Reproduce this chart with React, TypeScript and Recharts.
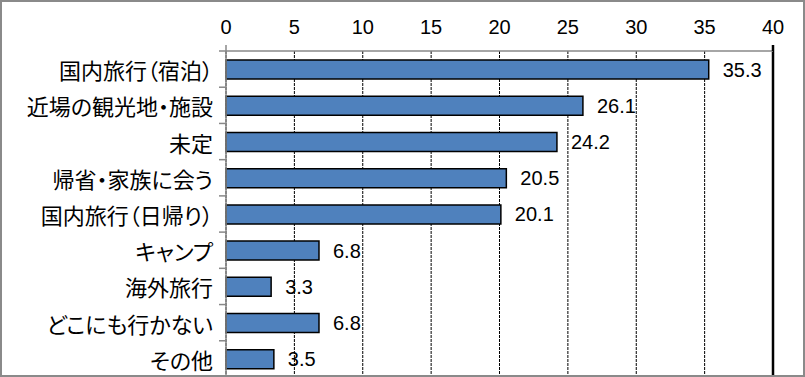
import React from 'react';
import { BarChart, Bar, XAxis, YAxis, CartesianGrid, ReferenceLine, LabelList } from 'recharts';

const categories = [
  '国内旅行（宿泊）',
  '近場の観光地・施設',
  '未定',
  '帰省・家族に会う',
  '国内旅行（日帰り）',
  'キャンプ',
  '海外旅行',
  'どこにも行かない',
  'その他',
];
const values = [35.3, 26.1, 24.2, 20.5, 20.1, 6.8, 3.3, 6.8, 3.5];
const xTicks = [0, 5, 10, 15, 20, 25, 30, 35, 40];

const data = categories.map((name, i) => ({ name, value: values[i] }));

const W = 805;
const H = 377;
const PLOT_LEFT = 226;
const PLOT_TOP = 51;
const BAND = (H - PLOT_TOP) / categories.length;

const jpFont = '"Noto Sans CJK JP", "Noto Sans", sans-serif';
const numFont = '"Liberation Sans", Arial, sans-serif';

// category label plus the little tick mark at the band boundary
const CategoryTick = (props: any) => {
  const { y, payload } = props;
  return (
    <g>
      <line x1={PLOT_LEFT - 7} x2={PLOT_LEFT} y1={y - BAND / 2} y2={y - BAND / 2} stroke="#888" strokeWidth={1.5} />
      <text
        x={PLOT_LEFT - 13}
        y={y}
        textAnchor="end"
        dominantBaseline="central"
        fill="#000"
        fontSize={22}
        fontFamily={jpFont}
        style={{ fontFeatureSettings: '"palt"' }}
      >
        {payload.value}
      </text>
    </g>
  );
};

// top value ticks; the outer ones get a short stub above the plot
const ValueTick = (props: any) => {
  const { x, payload } = props;
  const edge = payload.value === xTicks[0] || payload.value === xTicks[xTicks.length - 1];
  return (
    <g>
      {edge && (
        <line
          x1={x}
          x2={x}
          y1={PLOT_TOP - 6}
          y2={PLOT_TOP}
          stroke={payload.value === 0 ? '#888' : '#000'}
          strokeWidth={payload.value === 0 ? 1.5 : 2.5}
        />
      )}
      <text x={x} y={34} textAnchor="middle" fill="#000" fontSize={20} fontFamily={numFont}>
        {payload.value}
      </text>
    </g>
  );
};

export default function App() {
  return (
    <div style={{ position: 'absolute', left: 0, top: 0, width: W, height: H, background: '#fff' }}>
      <BarChart
        width={W}
        height={H}
        data={data}
        layout="vertical"
        margin={{ top: 0, right: 32, left: 0, bottom: 0 }}
        barSize={19}
      >
        <CartesianGrid horizontal={false} stroke="#000" strokeDasharray="3 1" strokeWidth={1} />
        <XAxis
          type="number"
          orientation="top"
          domain={[0, 40]}
          ticks={xTicks}
          interval={0}
          height={PLOT_TOP}
          tickLine={false}
          axisLine={{ stroke: '#888', strokeWidth: 1.5 }}
          tick={<ValueTick />}
        />
        <YAxis
          type="category"
          dataKey="name"
          width={PLOT_LEFT}
          tickLine={false}
          axisLine={{ stroke: '#888', strokeWidth: 1.5 }}
          tick={<CategoryTick />}
          interval={0}
        />
        <ReferenceLine x={40} stroke="#000" strokeWidth={2.5} />
        <Bar dataKey="value" fill="#4F81BD" stroke="#000" strokeWidth={1.5} isAnimationActive={false}>
          <LabelList
            dataKey="value"
            position="right"
            offset={14}
            formatter={(v: any) => Number(v).toFixed(1)}
            style={{ fill: '#000', fontSize: 20, fontFamily: numFont }}
          />
        </Bar>
      </BarChart>
      <div
        style={{
          position: 'absolute',
          left: 0,
          top: 0,
          width: W,
          height: H,
          boxSizing: 'border-box',
          border: '2px solid #8a8a8a',
          pointerEvents: 'none',
        }}
      />
    </div>
  );
}
